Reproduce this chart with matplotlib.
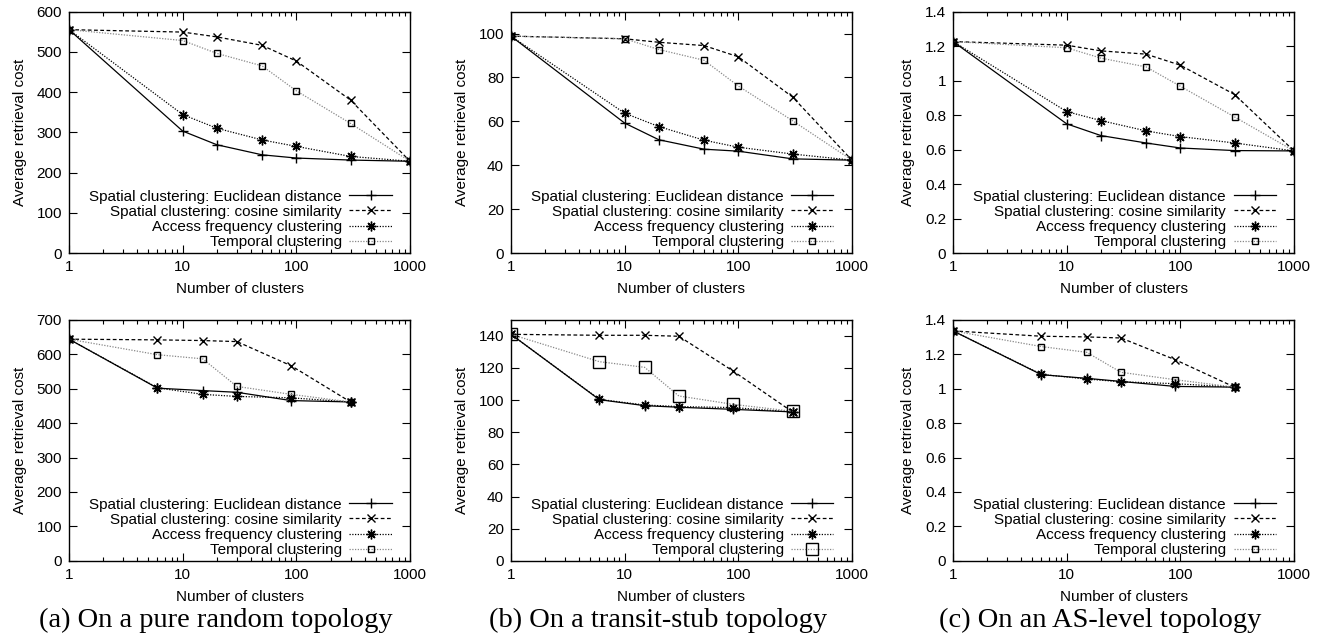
import numpy as np
import matplotlib.pyplot as plt
from matplotlib.ticker import FixedLocator, LogLocator, NullFormatter, FuncFormatter

plt.rcParams['font.family'] = ['Liberation Sans', 'DejaVu Sans']
plt.rcParams['font.size'] = 11

series_names = [
    "Spatial clustering: Euclidean distance",
    "Spatial clustering: cosine similarity",
    "Access frequency clustering",
    "Temporal clustering",
]

# number of clusters
x_top = [1, 10, 20, 50, 100, 300, 1000]
x_bot = [1, 6, 15, 30, 90, 300]

# top row: (a) pure random, (b) transit-stub, (c) AS-level
top_random_euc = [555, 303, 269, 244, 236, 231, 228]
top_random_cos = [555, 549, 537, 516, 477, 380, 228]
top_random_acc = [555, 344, 310, 281, 265, 240, 228]
top_random_tmp = [555, 528, 496, 465, 403, 322, 228]

top_transit_euc = [98.8, 59.2, 51.6, 47.3, 46.4, 42.9, 42.3]
top_transit_cos = [98.8, 97.6, 96.0, 94.5, 89.4, 71.1, 42.3]
top_transit_acc = [98.8, 63.7, 57.6, 51.4, 48.2, 45.1, 42.3]
top_transit_tmp = [98.8, 97.6, 92.7, 87.8, 76.1, 60.3, 42.3]

top_as_euc = [1.226, 0.749, 0.681, 0.638, 0.609, 0.594, 0.592]
top_as_cos = [1.226, 1.205, 1.172, 1.153, 1.089, 0.919, 0.592]
top_as_acc = [1.226, 0.820, 0.768, 0.708, 0.675, 0.638, 0.592]
top_as_tmp = [1.226, 1.190, 1.130, 1.079, 0.967, 0.789, 0.592]

# bottom row
bot_random_euc = [643, 501, 494, 489, 465, 461]
bot_random_cos = [643, 641, 639, 636, 566, 461]
bot_random_acc = [643, 502, 483, 477, 473, 461]
bot_random_tmp = [643, 598, 586, 506, 483, 461]

bot_transit_euc = [140.8, 100.2, 96.5, 95.5, 94.2, 92.6]
bot_transit_cos = [140.8, 140.2, 140.2, 139.6, 118.0, 92.6]
bot_transit_acc = [140.8, 100.4, 96.9, 95.9, 95.3, 92.6]
bot_transit_tmp = [140.8, 123.8, 120.3, 102.5, 97.3, 93.0]

bot_as_euc = [1.334, 1.080, 1.059, 1.041, 1.012, 1.008]
bot_as_cos = [1.334, 1.303, 1.299, 1.293, 1.167, 1.008]
bot_as_acc = [1.334, 1.082, 1.055, 1.039, 1.028, 1.008]
bot_as_tmp = [1.334, 1.243, 1.210, 1.094, 1.051, 1.008]

captions = ["(a) On a pure random topology",
            "(b) On a transit-stub topology",
            "(c) On an AS-level topology"]

panels = [
    # left, bottom, x, data, ylim, yticks, square size
    (0.0523, 0.6034, x_top, [top_random_euc, top_random_cos, top_random_acc, top_random_tmp],
     (0, 600), np.arange(0, 601, 100), 5),
    (0.3871, 0.6034, x_top, [top_transit_euc, top_transit_cos, top_transit_acc, top_transit_tmp],
     (0, 110), np.arange(0, 101, 20), 5),
    (0.7220, 0.6034, x_top, [top_as_euc, top_as_cos, top_as_acc, top_as_tmp],
     (0, 1.4), np.arange(0, 1.41, 0.2), 5),
    (0.0523, 0.1207, x_bot, [bot_random_euc, bot_random_cos, bot_random_acc, bot_random_tmp],
     (0, 700), np.arange(0, 701, 100), 5),
    (0.3871, 0.1207, x_bot, [bot_transit_euc, bot_transit_cos, bot_transit_acc, bot_transit_tmp],
     (0, 150), np.arange(0, 141, 20), 8.5),
    (0.7220, 0.1207, x_bot, [bot_as_euc, bot_as_cos, bot_as_acc, bot_as_tmp],
     (0, 1.4), np.arange(0, 1.41, 0.2), 5),
]

fig = plt.figure(figsize=(13.2, 6.38), dpi=100)
W, H = 0.2583, 0.3785

for i, (left, bottom, xs, ys, ylim, yticks, sq) in enumerate(panels):
    ax = fig.add_axes([left, bottom, W, H])
    styles = [
        dict(color='black', ls='-', marker='+', ms=7, mew=1.0),
        dict(color='black', ls=(0, (3, 2)), marker='x', ms=6, mew=1.0),
        dict(color='black', ls=(0, (1, 1.2)), marker=(8, 2, 0), ms=7, mew=1.0),
        dict(color='#888888', ls=(0, (1, 1.2)), marker='s', ms=sq, mew=1.0,
             mfc='none', mec='black'),
    ]
    for y, name, st in zip(ys, series_names, styles):
        ax.plot(xs, y, lw=0.9, label=name, **st)

    ax.set_xscale('log')
    ax.set_xlim(1, 1000)
    ax.set_ylim(*ylim)
    ax.xaxis.set_major_locator(FixedLocator([1, 10, 100, 1000]))
    ax.xaxis.set_major_formatter(FuncFormatter(lambda v, p: "%d" % v))
    ax.xaxis.set_minor_locator(LogLocator(base=10, subs=np.arange(2, 10)))
    ax.xaxis.set_minor_formatter(NullFormatter())
    ax.set_yticks(yticks)
    ax.yaxis.set_major_formatter(FuncFormatter(lambda v, p: "%g" % round(v, 2)))
    ax.tick_params(which='both', direction='in', top=True, right=True, labelsize=11)
    ax.tick_params(which='major', length=6, width=0.8, pad=5)
    ax.tick_params(which='minor', length=3, width=0.8)
    for s in ax.spines.values():
        s.set_linewidth(1.0)
    ax.set_xlabel("Number of clusters", fontsize=11, labelpad=6)
    ax.set_ylabel("Average retrieval cost", fontsize=11, labelpad=7)

    ax.legend(loc='lower right', bbox_to_anchor=(0.957, 0.0), frameon=False,
              markerfirst=False, handlelength=2.75, handletextpad=0.5,
              labelspacing=0.08, borderpad=0.15, borderaxespad=0.1, fontsize=11)

    if i >= 3:
        cx = left + W / 2 - 0.018
        fig.text(cx, 0.028, captions[i - 3], ha='center', va='center',
                 family=['Liberation Serif', 'DejaVu Serif'], fontsize=20.5)

fig.savefig("out.png", dpi=100)
